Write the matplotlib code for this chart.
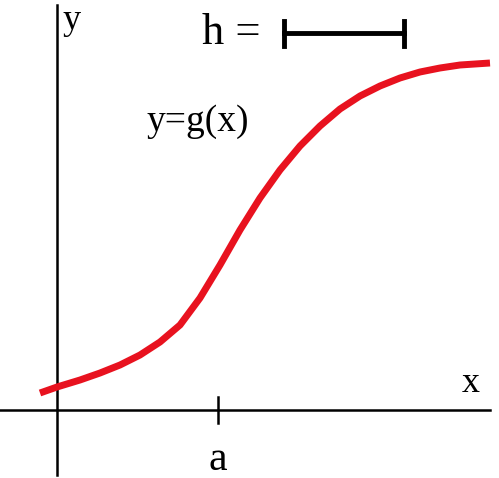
import numpy as np
import matplotlib.pyplot as plt

plt.rcParams['font.family'] = ['Liberation Serif', 'DejaVu Serif']

# curve, pixel coordinates (y downward)
curve_x = [40, 57, 80, 100, 120, 140, 160, 180, 200, 220, 240, 260, 280, 300, 320,
           340, 360, 380, 400, 420, 440, 460, 490]
curve_y = [393, 387, 380, 373, 365, 355, 342, 325, 298, 265, 230, 198, 170, 146, 126,
           109, 96, 86, 78, 72, 68, 65, 63]
tick_a = 218
h_bar = [284, 404]

fig = plt.figure(figsize=(4.99, 4.78), dpi=100)
ax = fig.add_axes([0, 0, 1, 1])
ax.set_xlim(0, 499)
ax.set_ylim(478, 0)
ax.axis('off')

# axes
ax.plot([57, 57], [5, 475], color='black', lw=1.8)
ax.plot([0, 490], [410, 410], color='black', lw=1.8)
ax.plot([tick_a, tick_a], [397, 423], color='black', lw=1.8)

ax.plot(curve_x, curve_y, color='#e8121f', lw=5, solid_capstyle='butt',
        solid_joinstyle='round')

# h bar
ax.plot(h_bar, [33, 33], color='black', lw=3.5)
for xb in h_bar:
    ax.plot([xb, xb], [21, 46], color='black', lw=3.5)

ax.text(231, 33, 'h =', fontsize=32, ha='center', va='center')
ax.text(72, 20, 'y', fontsize=26, ha='center', va='center')
ax.text(471, 383, 'x', fontsize=26, ha='center', va='center')
ax.text(218, 460, 'a', fontsize=30, ha='center', va='center')
ax.text(198, 122, 'y=g(x)', fontsize=27, ha='center', va='center')

fig.savefig('out.png', dpi=100)
